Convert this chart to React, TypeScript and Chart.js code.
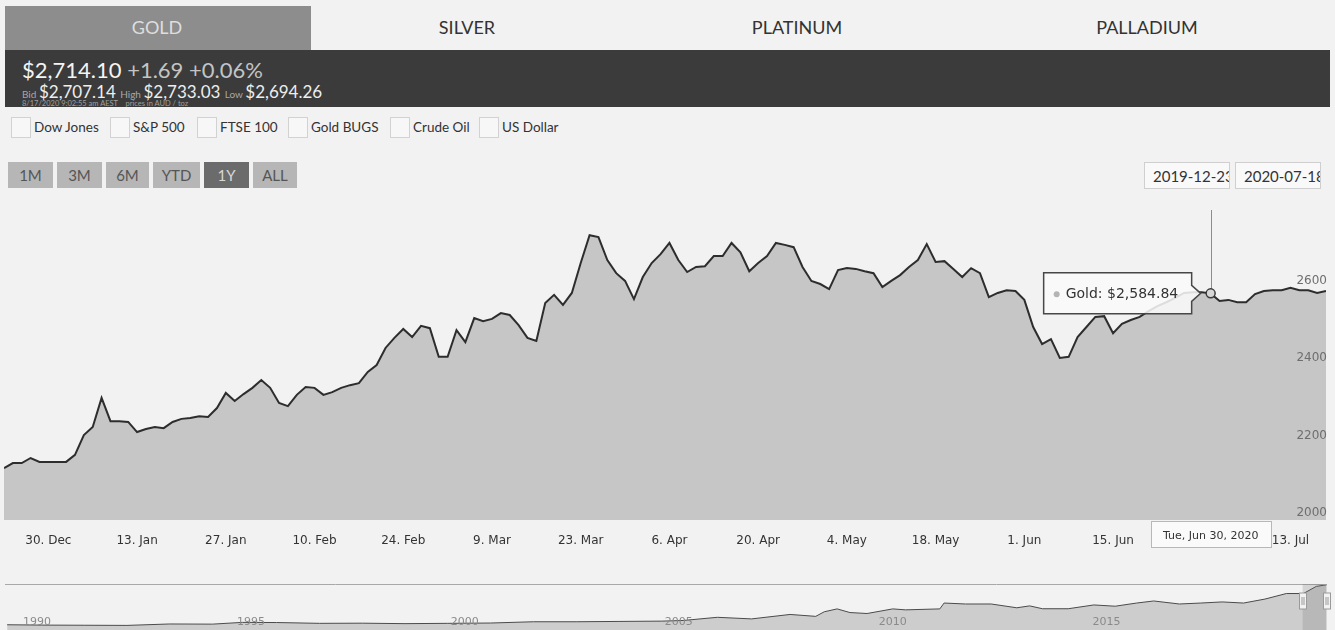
import React, { useEffect, useRef } from "react";
import { Chart, registerables } from "chart.js";

Chart.register(...registerables);

// ---------- DATA ----------
// Gold price (AUD/oz), one value per trading day, 23 Dec 2019 .. 17 Jul 2020
const goldPrices: number[] = [
  2134, 2147, 2147, 2160, 2150, 2150, 2150, 2150, 2168, 2219,
  2240, 2315, 2255, 2255, 2253, 2227, 2235, 2240, 2237, 2253,
  2261, 2263, 2268, 2266, 2289, 2328, 2307, 2325, 2341, 2361,
  2341, 2302, 2294, 2323, 2343, 2341, 2323, 2330, 2341, 2348,
  2353, 2382, 2400, 2444, 2470, 2493, 2472, 2501, 2495, 2421,
  2421, 2490, 2459, 2521, 2513, 2519, 2534, 2529, 2503, 2470,
  2462, 2560, 2581, 2555, 2586, 2663, 2735, 2730, 2671, 2637,
  2617, 2570, 2627, 2663, 2686, 2715, 2671, 2640, 2653, 2655,
  2681, 2681, 2715, 2691, 2642, 2663, 2681, 2715, 2710, 2704,
  2653, 2617, 2609, 2596, 2645, 2650, 2648, 2642, 2637, 2601,
  2617, 2632, 2653, 2671, 2712, 2666, 2668, 2648, 2627, 2650,
  2637, 2575, 2586, 2593, 2591, 2568, 2498, 2454, 2467, 2418,
  2421, 2472, 2498, 2524, 2526, 2482, 2506, 2516, 2524, 2539,
  2552, 2562, 2573, 2586, 2588, 2588, 2584.84, 2565, 2568, 2562,
  2562, 2583, 2591, 2593, 2593, 2599, 2593, 2593, 2586, 2591,
];

const xTickIndices: number[] = [5, 15, 25, 35, 45, 55, 65, 75, 85, 95, 105, 115, 125, 135, 145];
const xTickLabels: string[] = [
  "30. Dec", "13. Jan", "27. Jan", "10. Feb", "24. Feb", "9. Mar", "23. Mar",
  "6. Apr", "20. Apr", "4. May", "18. May", "1. Jun", "15. Jun", "29. Jun", "13. Jul",
];
const yTickValues: number[] = [2000, 2200, 2400, 2600, 2800];
const yMin = 2000;
const yMax = 2800;

const seriesName = "Gold";
const hoverIndex = 136;
const hoverDateLabel = "Tue, Jun 30, 2020";

// Navigator (long history)
const navYears: number[] = [
  1989.7, 1990.5, 1991.5, 1992.5, 1993.5, 1994.5, 1995.2, 1996, 1997, 1998,
  1999, 2000, 2001, 2002, 2003, 2004, 2005, 2005.5, 2006.3, 2007.1,
  2008.0, 2008.6, 2008.8, 2009.1, 2009.4, 2009.8, 2010.4, 2010.7, 2011.5, 2011.6,
  2012.1, 2012.7, 2013.3, 2013.6, 2013.9, 2014.5, 2015.1, 2015.6, 2016.1, 2016.5,
  2017.1, 2017.6, 2018.1, 2018.6, 2019.1, 2019.6, 2020.0, 2020.2, 2020.3, 2020.54,
];
const navPrices: number[] = [
  330, 310, 300, 290, 380, 370, 480, 470, 420, 430,
  400, 420, 440, 520, 520, 540, 560, 600, 800, 700,
  980, 860, 1150, 1330, 1100, 1040, 1330, 1270, 1330, 1700,
  1640, 1640, 1400, 1520, 1340, 1340, 1580, 1500, 1700, 1830,
  1640, 1700, 1770, 1700, 1950, 2300, 2300, 2600, 2750, 2850,
];
const navYearLabels: number[] = [1990, 1995, 2000, 2005, 2010, 2015];
const navSelected: number[] = [2019.98, 2020.54];

const tabs = ["GOLD", "SILVER", "PLATINUM", "PALLADIUM"];
const compareItems = ["Dow Jones", "S&P 500", "FTSE 100", "Gold BUGS", "Crude Oil", "US Dollar"];
const rangeButtons = ["1M", "3M", "6M", "YTD", "1Y", "ALL"];
const activeRange = "1Y";
const dateFrom = "2019-12-23";
const dateTo = "2020-07-18";

// ---------- LAYOUT (positions only) ----------
const tabCenters = [157, 467, 797, 1147];
const checkLefts = [11, 110, 197, 288, 390, 479];
const btnLefts = [8, 57, 106, 153, 204, 253];
const btnWidths = [45, 45, 43, 47, 45, 44];

const hoverPlugin = {
  id: "hoverOverlay",
  beforeDatasetsDraw(chart: any) {
    const { ctx, chartArea, scales } = chart;
    const x = Math.round(scales.x.getPixelForValue(hoverIndex)) + 0.5;
    ctx.save();
    ctx.strokeStyle = "#8c8c8c";
    ctx.lineWidth = 1;
    ctx.beginPath();
    ctx.moveTo(x, chartArea.top);
    ctx.lineTo(x, chartArea.bottom);
    ctx.stroke();
    ctx.restore();
  },
  afterDraw(chart: any) {
    const { ctx, chartArea, scales } = chart;
    const px = scales.x.getPixelForValue(hoverIndex);
    const py = scales.y.getPixelForValue(goldPrices[hoverIndex]);
    ctx.save();
    // tooltip callout
    const w = 148;
    const h = 41;
    const right = px - 19;
    const left = right - w;
    const top = py - h / 2;
    const bottom = top + h;
    ctx.beginPath();
    ctx.moveTo(left, top);
    ctx.lineTo(right, top);
    ctx.lineTo(right, py - 8);
    ctx.lineTo(px - 10, py);
    ctx.lineTo(right, py + 8);
    ctx.lineTo(right, bottom);
    ctx.lineTo(left, bottom);
    ctx.closePath();
    ctx.fillStyle = "rgba(250,250,250,0.86)";
    ctx.fill();
    ctx.strokeStyle = "#474747";
    ctx.lineWidth = 1.5;
    ctx.stroke();
    ctx.fillStyle = "#b4b4b4";
    ctx.beginPath();
    ctx.arc(left + 13, py + 1, 3, 0, Math.PI * 2);
    ctx.fill();
    ctx.fillStyle = "#333";
    ctx.font = '14px "DejaVu Sans"';
    ctx.textAlign = "left";
    ctx.textBaseline = "middle";
    const val = goldPrices[hoverIndex].toLocaleString("en-US", {
      minimumFractionDigits: 2,
      maximumFractionDigits: 2,
    });
    ctx.fillText(`${seriesName}: $${val}`, left + 22, py + 1);
    // crosshair label on x axis
    const lw = 120;
    const lx = Math.round(px - lw / 2) + 0.5;
    const ly = Math.round(chartArea.bottom) + 1.5;
    ctx.fillStyle = "#fafafa";
    ctx.fillRect(lx, ly, lw, 26);
    ctx.strokeStyle = "#b8b8b8";
    ctx.lineWidth = 1;
    ctx.strokeRect(lx, ly, lw, 26);
    ctx.fillStyle = "#333";
    ctx.font = '11px "DejaVu Sans"';
    ctx.textAlign = "center";
    ctx.fillText(hoverDateLabel, px, ly + 15);
    ctx.restore();
  },
};

const navPlugin = {
  id: "navOverlay",
  afterDraw(chart: any) {
    const { ctx, chartArea, scales } = chart;
    ctx.save();
    // outline
    ctx.strokeStyle = "#a8a8a8";
    ctx.lineWidth = 1;
    ctx.beginPath();
    ctx.moveTo(chartArea.left, Math.round(chartArea.top) + 0.5);
    ctx.lineTo(chartArea.right, Math.round(chartArea.top) + 0.5);
    ctx.stroke();
    // selected zone mask
    const x0 = scales.x.getPixelForValue(navSelected[0]);
    const x1 = scales.x.getPixelForValue(navSelected[1]);
    ctx.fillStyle = "rgba(110,110,110,0.22)";
    ctx.fillRect(x0, chartArea.top, x1 - x0, chartArea.bottom - chartArea.top);
    // handles
    const hy = chartArea.top + 9;
    [x0, x1].forEach((hx) => {
      const rx = Math.round(hx - 4) + 0.5;
      ctx.fillStyle = "#f2f2f2";
      ctx.fillRect(rx, hy, 7, 16);
      ctx.strokeStyle = "#9a9a9a";
      ctx.strokeRect(rx, hy, 7, 16);
      ctx.beginPath();
      ctx.moveTo(rx + 2.5, hy + 4);
      ctx.lineTo(rx + 2.5, hy + 12);
      ctx.moveTo(rx + 4.5, hy + 4);
      ctx.lineTo(rx + 4.5, hy + 12);
      ctx.stroke();
    });
    // year labels
    ctx.fillStyle = "#8a8a8a";
    ctx.font = '11px "DejaVu Sans"';
    ctx.textAlign = "left";
    ctx.textBaseline = "middle";
    navYearLabels.forEach((yr) => {
      ctx.fillText(String(yr), scales.x.getPixelForValue(yr) + 3, chartArea.bottom - 8);
    });
    ctx.restore();
  },
};

export default function App() {
  const mainRef = useRef<HTMLCanvasElement>(null);
  const navRef = useRef<HTMLCanvasElement>(null);

  useEffect(() => {
    document.body.style.margin = "0";
    document.body.style.background = "#f2f2f2";

    const main = new Chart(mainRef.current as HTMLCanvasElement, {
      type: "line",
      data: {
        datasets: [
          {
            label: seriesName,
            data: goldPrices.map((v, i) => ({ x: i, y: v })),
            borderColor: "#2d2d2d",
            borderWidth: 2,
            backgroundColor: "#c6c6c6",
            fill: "start",
            tension: 0,
            pointRadius: (c: any) => (c.dataIndex === hoverIndex ? 4.5 : 0),
            pointBackgroundColor: "#d6d6d6",
            pointBorderColor: "#3a3a3a",
            pointBorderWidth: 1.5,
          },
        ],
      },
      options: {
        animation: false,
        responsive: true,
        maintainAspectRatio: false,
        events: [],
        layout: { padding: { left: 4, right: 9, top: 10, bottom: 0 } },
        plugins: { legend: { display: false }, tooltip: { enabled: false } },
        scales: {
          x: {
            type: "linear",
            min: 0,
            max: goldPrices.length - 1,
            grid: { display: false, drawTicks: false },
            border: { display: false },
            afterBuildTicks: (scale: any) => {
              scale.ticks = xTickIndices.map((v) => ({ value: v }));
            },
            afterFit: (scale: any) => {
              scale.height = 35;
            },
            ticks: {
              autoSkip: false,
              maxRotation: 0,
              padding: 14,
              color: "#333",
              font: { family: "DejaVu Sans", size: 12 },
              callback: (value: any) => {
                const k = xTickIndices.indexOf(value);
                return k >= 0 ? xTickLabels[k] : "";
              },
            },
          },
          y: {
            position: "right",
            min: yMin,
            max: yMax,
            grid: { display: false, drawTicks: false },
            border: { display: false },
            afterBuildTicks: (scale: any) => {
              scale.ticks = yTickValues.map((v) => ({ value: v }));
            },
            afterFit: (scale: any) => {
              scale.width = 0;
            },
            ticks: {
              z: 1,
              mirror: true,
              padding: 1,
              labelOffset: -7,
              color: "#6e6e6e",
              font: { family: "DejaVu Sans", size: 12 },
              callback: (value: any) => (value >= yMax ? "" : String(value)),
            },
          },
        },
      },
      plugins: [hoverPlugin],
    } as any);

    const nav = new Chart(navRef.current as HTMLCanvasElement, {
      type: "line",
      data: {
        datasets: [
          {
            data: navYears.map((y, i) => ({ x: y, y: navPrices[i] })),
            borderColor: "#4a4a4a",
            borderWidth: 1,
            backgroundColor: "#cdcdcd",
            fill: "start",
            tension: 0,
            pointRadius: 0,
          },
        ],
      },
      options: {
        animation: false,
        responsive: true,
        maintainAspectRatio: false,
        events: [],
        layout: { padding: { left: 5, right: 8, top: 14, bottom: 0 } },
        plugins: { legend: { display: false }, tooltip: { enabled: false } },
        scales: {
          x: { type: "linear", min: 1989.65, max: 2020.55, display: false },
          y: { min: 0, max: 2900, display: false },
        },
      },
      plugins: [navPlugin],
    } as any);

    return () => {
      main.destroy();
      nav.destroy();
    };
  }, []);

  const abs = (o: React.CSSProperties): React.CSSProperties => ({ position: "absolute", ...o });

  return (
    <div
      style={{
        position: "absolute",
        left: 0,
        top: 0,
        width: 1335,
        height: 630,
        background: "#f2f2f2",
        overflow: "hidden",
        fontFamily: "Lato, sans-serif",
      }}
    >
      {/* tabs */}
      <div style={abs({ left: 5, top: 6, width: 306, height: 44, background: "#8d8d8d" })} />
      {tabs.map((t, i) => (
        <div
          key={t}
          style={abs({
            left: tabCenters[i] - 100,
            width: 200,
            top: 14,
            height: 26,
            lineHeight: "26px",
            textAlign: "center",
            fontSize: 18,
            color: i === 0 ? "#dedede" : "#333",
          })}
        >
          {t}
        </div>
      ))}

      {/* dark price bar */}
      <div style={abs({ left: 5, top: 50, width: 1325, height: 57, background: "#3b3b3b" })} />
      <div style={abs({ left: 22, top: 57, height: 26, lineHeight: "26px", fontSize: 22, whiteSpace: "nowrap" })}>
        <span style={{ color: "#f4f4f4" }}>$2,714.10</span>
        <span style={{ color: "#c4c4c4" }}> +1.69 +0.06%</span>
      </div>
      <div style={abs({ left: 22, top: 83, height: 18, lineHeight: "18px", whiteSpace: "nowrap", color: "#eee" })}>
        <span style={{ fontSize: 10, color: "#a8a8a8" }}>Bid </span>
        <span style={{ fontSize: 17 }}>$2,707.14 </span>
        <span style={{ fontSize: 10, color: "#a8a8a8" }}>High </span>
        <span style={{ fontSize: 17 }}>$2,733.03 </span>
        <span style={{ fontSize: 10, color: "#a8a8a8" }}>Low </span>
        <span style={{ fontSize: 17 }}>$2,694.26</span>
      </div>
      <div style={abs({ left: 22, top: 99, height: 9, lineHeight: "9px", fontSize: 7.5, color: "#a0a0a0", whiteSpace: "nowrap" })}>
        8/17/2020 9:02:55 am AEST&nbsp;&nbsp;&nbsp;&nbsp;prices in AUD / toz
      </div>

      {/* compare checkboxes */}
      {compareItems.map((c, i) => (
        <React.Fragment key={c}>
          <div
            style={abs({
              left: checkLefts[i],
              top: 117,
              width: 18,
              height: 19,
              border: "1px solid #d2d2d2",
              background: "#f7f7f7",
            })}
          />
          <div
            style={abs({
              left: checkLefts[i] + 23,
              top: 118,
              height: 19,
              lineHeight: "19px",
              fontSize: 13.5,
              color: "#333",
              whiteSpace: "nowrap",
            })}
          >
            {c}
          </div>
        </React.Fragment>
      ))}

      {/* range buttons */}
      {rangeButtons.map((b, i) => (
        <div
          key={b}
          style={abs({
            left: btnLefts[i],
            top: 162,
            width: btnWidths[i],
            height: 26,
            lineHeight: "26px",
            textAlign: "center",
            fontSize: 15,
            background: b === activeRange ? "#6b6b6b" : "#b6b6b6",
            color: b === activeRange ? "#d8d8d8" : "#555",
          })}
        >
          {b}
        </div>
      ))}

      {/* date inputs */}
      {[dateFrom, dateTo].map((d, i) => (
        <div
          key={d}
          style={abs({
            left: i === 0 ? 1144 : 1235,
            top: 162,
            width: 86,
            height: 27,
            lineHeight: "27px",
            border: "1px solid #cfcfcf",
            background: "#f9f9f9",
            fontSize: 15,
            color: "#333",
            paddingLeft: 8,
            boxSizing: "border-box",
            overflow: "hidden",
            whiteSpace: "nowrap",
          })}
        >
          {d}
        </div>
      ))}

      {/* main chart */}
      <div style={abs({ left: 0, top: 200, width: 1335, height: 355 })}>
        <canvas ref={mainRef} />
      </div>

      {/* navigator */}
      <div style={abs({ left: 0, top: 570, width: 1335, height: 60 })}>
        <canvas ref={navRef} />
      </div>
    </div>
  );
}
